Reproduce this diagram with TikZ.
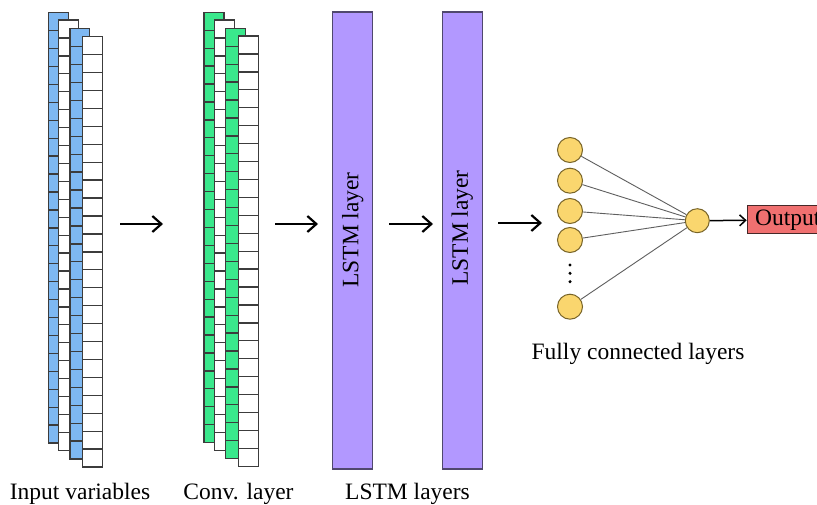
\documentclass[tikz,border=0pt]{standalone}
\usepackage{fontspec}
\setmainfont{Liberation Serif}
\usetikzlibrary{arrows.meta}

\definecolor{cellblue}{RGB}{126,184,242}
\definecolor{cellgreen}{RGB}{58,232,140}
\definecolor{lstmpurple}{RGB}{178,152,255}
\definecolor{lstmedge}{RGB}{80,72,110}
\definecolor{neuron}{RGB}{250,214,110}
\definecolor{neuronedge}{RGB}{120,100,40}
\definecolor{outred}{RGB}{240,112,112}
\definecolor{outedge}{RGB}{70,40,40}
\definecolor{gridline}{RGB}{60,60,60}
\definecolor{wire}{RGB}{95,95,95}

% one column of 24 cells: x, top, width, fill colour
\newcommand\cellcolumn[4]{%
  \fill[#4] (#1,#2) rectangle ++(#3,430.3);
  \foreach \k in {1,...,23}
    \draw[gridline,line width=1.3pt] (#1,#2+\k*17.93) -- ++(#3,0);
  \draw[gridline,line width=1.4pt] (#1,#2) rectangle ++(#3,430.3);
}

\tikzset{
  bigtext/.style={font=\fontsize{23.5}{28}\selectfont, inner sep=0pt},
  lstmbox/.style={draw=lstmedge, fill=lstmpurple, line width=1.1pt,
    minimum width=40pt, minimum height=457pt, inner sep=0pt},
  flowarrow/.style={line width=2.2pt, -{Straight Barb[length=9pt,width=16pt]}},
  unit/.style={circle, draw=neuronedge, fill=neuron, line width=1pt,
    minimum size=25pt, inner sep=0pt},
  wirestyle/.style={wire, line width=0.9pt},
  outbox/.style={draw=outedge, fill=outred, line width=1pt, minimum height=28pt,
    inner xsep=8pt, inner ysep=0pt, anchor=west,
    font=\fontsize{23.5}{28}\selectfont},
}

\begin{document}
\begin{tikzpicture}[x=1pt,y=-1pt]
\useasboundingbox (0,0) rectangle (817,505);
\clip (0,0) rectangle (817,505);
\fill[white] (0,0) rectangle (817,505);

% input variables stack
\cellcolumn{48.7}{12.7}{19.5}{cellblue}
\cellcolumn{58.3}{20}{20}{white}
\cellcolumn{70}{28.7}{19.5}{cellblue}
\cellcolumn{82.3}{36.7}{20}{white}

% convolution layer stack
\cellcolumn{204}{12.3}{20}{cellgreen}
\cellcolumn{214.3}{20}{20}{white}
\cellcolumn{225.3}{28.3}{20}{cellgreen}
\cellcolumn{238.3}{36}{20}{white}

% LSTM layers
\node[lstmbox] (lstm1) at (352.7,240.5) {};
\node[lstmbox] (lstm2) at (462.2,240.5) {};
\node[bigtext, rotate=90] (lstm1txt) at (352.7,230) {LSTM layer};
\node[bigtext, rotate=90] (lstm2txt) at (462.2,228) {LSTM layer};

% fully connected part
\node[unit] (u1) at (570,150) {};
\node[unit] (u2) at (570,180.7) {};
\node[unit] (u3) at (570,211) {};
\node[unit] (u4) at (570,240) {};
\node[unit] (u5) at (570,306.7) {};
\node[unit, minimum size=24pt] (o) at (697.3,220.7) {};
\foreach \d in {265,273.3,281.7}
  \fill (570,\d) circle (1.7pt);
\foreach \u in {u1,u2,u3,u4,u5}
  \draw[wirestyle] (\u) -- (o);

\node[outbox] (out) at (746.7,220) {Output};
\draw[line width=1.5pt, -{Straight Barb[length=6pt,width=11pt]}] (o) -- (out);

% arrows between stages
\coordinate (a1s) at (120,224); \coordinate (a1e) at (163,224);
\coordinate (a2s) at (275,224); \coordinate (a2e) at (318,224);
\coordinate (a3s) at (389,224); \coordinate (a3e) at (433,224);
\coordinate (a4s) at (498,223); \coordinate (a4e) at (542,223);
\draw[flowarrow] (a1s) -- (a1e);
\draw[flowarrow] (a2s) -- (a2e);
\draw[flowarrow] (a3s) -- (a3e);
\draw[flowarrow] (a4s) -- (a4e);

% captions
\node[bigtext, anchor=base] (capin) at (80,499) {Input variables};
\node[bigtext, anchor=base] (capconv) at (238.5,499) {Conv. layer};
\node[bigtext, anchor=base] (caplstm) at (407.5,499) {LSTM layers};
\node[bigtext, anchor=base] (capfc) at (638,359) {Fully connected layers};
\end{tikzpicture}
\end{document}
